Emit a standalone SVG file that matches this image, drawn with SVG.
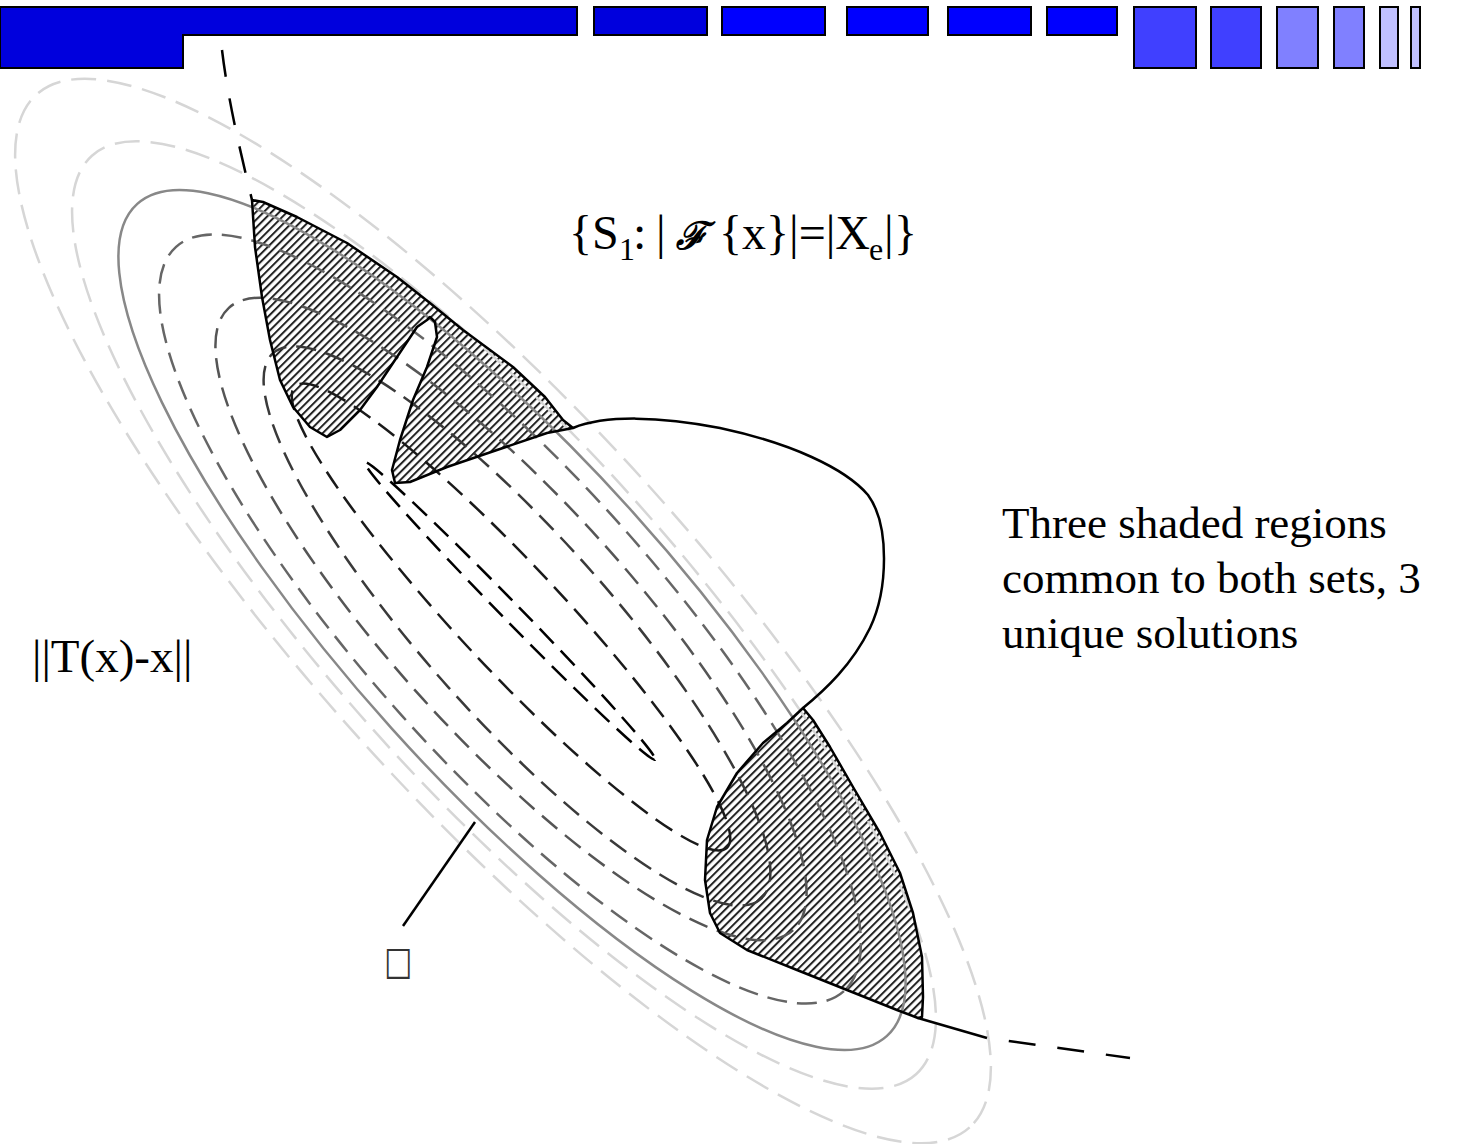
<svg xmlns="http://www.w3.org/2000/svg" width="1465" height="1144" viewBox="0 0 1465 1144">
<defs>
<pattern id="hatch" width="5.5" height="5.5" patternUnits="userSpaceOnUse" patternTransform="rotate(45)">
<rect width="5.5" height="5.5" fill="#fff"/>
<rect width="2" height="5.5" fill="#222"/>
</pattern>
</defs>
<style>
.la{fill:none;stroke:#d6d6d6;stroke-width:2.5;stroke-dasharray:25 11}
.cs{fill:none;stroke:#888;stroke-width:2.5}
.dd{fill:none;stroke-width:2.5;stroke-dasharray:20 10}
.bk{fill:none;stroke:#000;stroke-width:2.5;stroke-linejoin:round}
.t{font-family:"Liberation Serif","Times New Roman",serif;fill:#000}
.bar{stroke:#000;stroke-width:2}
</style>
<rect width="1465" height="1144" fill="#fff"/>
<g id="topbar">
<path class="bar" d="M0,7 H577 V35 H183 V68 H0 Z" fill="#0000dd"/>
<rect class="bar" x="594" y="7" width="113" height="28" fill="#0000dd"/>
<rect class="bar" x="722" y="7" width="103" height="28" fill="#0000ff"/>
<rect class="bar" x="847" y="7" width="81" height="28" fill="#0000ff"/>
<rect class="bar" x="948" y="7" width="83" height="28" fill="#0000ff"/>
<rect class="bar" x="1047" y="7" width="70" height="28" fill="#0000ff"/>
<rect class="bar" x="1134" y="7" width="62" height="61" fill="#4040ff"/>
<rect class="bar" x="1211" y="7" width="50" height="61" fill="#4040ff"/>
<rect class="bar" x="1277" y="7" width="41" height="61" fill="#8080ff"/>
<rect class="bar" x="1334" y="7" width="30" height="61" fill="#8080ff"/>
<rect class="bar" x="1380" y="7" width="18" height="61" fill="#c0c0ff"/>
<rect class="bar" x="1411" y="7" width="9" height="61" fill="#c0c0ff"/>
</g>
<g id="shaded">
<path fill="url(#hatch)" d="M252,200 L263,202 L297,217 L347,243 L397,277 L430,303 L463,330 L513,367 L545,397 L563,420 L573,428 L547,433 L497,450 L447,467 L410,482 L395,483 L392,470 L400,440 L413,400 L427,367 L437,337 L435,322 L430,317 L427,320 L417,327 L397,357 L377,387 L360,410 L340,430 L327,437 L310,427 L293,407 L280,380 L270,340 L262,297 L255,247 Z"/>
<path fill="url(#hatch)" d="M803,708 L813,720 L830,747 L853,787 L880,833 L900,873 L913,913 L922,957 L923,997 L922,1017 L918,1018 L897,1010 L847,990 L797,970 L747,950 L720,933 L710,913 L705,880 L707,840 L717,807 L737,773 L763,743 L787,723 Z"/>
</g>
<g id="contours">
<ellipse class="la" rx="696" ry="192" transform="translate(503,611) rotate(47.9)"/>
<ellipse class="la" rx="617" ry="174" transform="translate(504,615) rotate(48.1)"/>
<ellipse class="cs" rx="560" ry="162" transform="translate(512,620) rotate(48)"/>
<ellipse class="dd" stroke="#666" rx="500" ry="145" transform="translate(510,619) rotate(48.1)"/>
<ellipse class="dd" stroke="#555" rx="420" ry="119" transform="translate(511,619) rotate(47.8)"/>
<ellipse class="dd" stroke="#3a3a3a" rx="366" ry="92" transform="translate(517,626) rotate(48.2)"/>
<ellipse class="dd" stroke="#1a1a1a" rx="316" ry="52" transform="translate(511,617) rotate(46.9)"/>
<ellipse class="dd" stroke="#000" stroke-dasharray="17 10" rx="208" ry="9" transform="translate(510,611) rotate(45.7)"/>
</g>
<g id="connectors">
<path class="bk" stroke-dasharray="27 22" d="M222,50 C228,100 240,150 252,200"/>
<path class="bk" d="M252,200 L263,202 L297,217 L347,243 L397,277 L430,303 L463,330 L513,367 L545,397 L563,420 L573,428 L547,433 L497,450 L447,467 L410,482 L395,483 L392,470 L400,440 L413,400 L427,367 L437,337 L435,322 L430,317 L427,320 L417,327 L397,357 L377,387 L360,410 L340,430 L327,437 L310,427 L293,407 L280,380 L270,340 L262,297 L255,247 Z"/>
<path class="bk" stroke-width="2" d="M573,428 C605,415 660,416 720,428 C790,443 845,468 868,495 C890,525 888,590 870,628 C852,665 825,690 803,708"/>
<path class="bk" d="M803,708 L813,720 L830,747 L853,787 L880,833 L900,873 L913,913 L922,957 L923,997 L922,1017 L918,1018 L897,1010 L847,990 L797,970 L747,950 L720,933 L710,913 L705,880 L707,840 L717,807 L737,773 L763,743 L787,723 Z"/>
<path class="bk" d="M918,1018 L987,1038"/>
<path class="bk" stroke-dasharray="27 22" stroke-dashoffset="27" d="M987,1038 L1130,1058"/>
<path class="bk" d="M403,926 L475,822"/>
</g>
<g id="labels">
<text class="t" font-size="48">
<tspan x="569" y="249">{S</tspan><tspan x="619" y="260" font-size="32">1</tspan><tspan x="633" y="249">:</tspan><tspan x="656" y="249">|</tspan><tspan x="676" y="249" font-family="DejaVu Serif" font-style="italic" font-weight="bold" font-size="38">ℱ</tspan><tspan x="719" y="249">{x}|=|X</tspan><tspan x="869" y="260" font-size="32">e</tspan><tspan x="884" y="249">|</tspan><tspan x="894" y="249">}</tspan>
</text>
<text class="t" font-size="45" x="1002" y="538">Three shaded regions</text>
<text class="t" font-size="45" x="1002" y="593">common to both sets, 3</text>
<text class="t" font-size="45" x="1002" y="648">unique solutions</text>
<text class="t" font-size="47" x="32" y="672">||T(x)-x||</text>
<text font-family="DejaVu Sans" font-size="30" fill="#333" transform="translate(384,974) scale(1,1.3)">□</text>
</g>
</svg>
